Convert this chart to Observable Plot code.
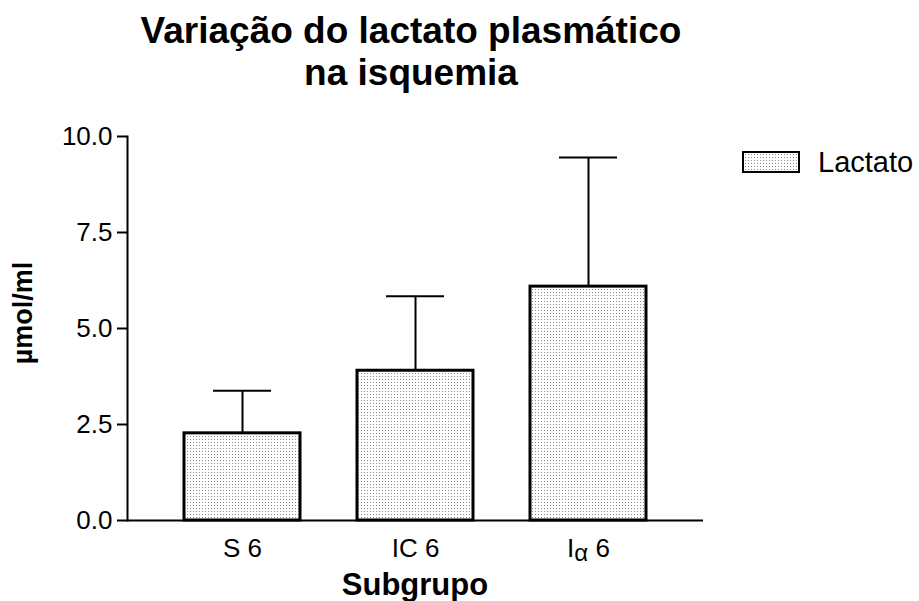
<!DOCTYPE html>
<html>
<head>
<meta charset="utf-8">
<script src="https://cdn.jsdelivr.net/npm/d3@7"></script>
<script src="https://cdn.jsdelivr.net/npm/@observablehq/plot@0.6"></script>
<style>
  html, body { margin: 0; padding: 0; background: white; }
  #chart { width: 919px; height: 601px; position: relative; }
</style>
</head>
<body>
<div id="chart"></div>
<script>
// ---- data ----
const groups = ["S 6", "IC 6", "Iα 6"];
const means = [2.27, 3.90, 6.09];
const errors = [1.11, 1.94, 3.36];
const yTicks = [0, 2.5, 5, 7.5, 10];
const seriesName = "Lactato";
const titleLines = ["Variação do lactato plasmático", "na isquemia"];
const xLabel = "Subgrupo";
const yLabel = "µmol/ml";

const data = groups.map((g, i) => ({group: g, mean: means[i], upper: means[i] + errors[i]}));

const font = "'Liberation Sans', Arial, Helvetica, sans-serif";

const chart = Plot.plot({
  width: 919,
  height: 601,
  marginLeft: 127,
  marginRight: 216,
  marginTop: 136,
  marginBottom: 81,
  style: {fontFamily: font, fontSize: "26px", background: "white", color: "black", overflow: "visible"},
  x: {type: "band", domain: groups, paddingInner: 0.33, paddingOuter: 0.327, label: null},
  y: {domain: [0, 10], label: null},
  marks: [
    Plot.axisY({ticks: yTicks, tickFormat: d3.format(".1f"), tickSize: 10, tickPadding: 5, strokeWidth: 2, fontSize: 26, label: null}),
    Plot.axisX({tickSize: 0, tickPadding: 18, fontSize: 26, label: null}),
    Plot.ruleX(data, {x: "group", y1: "mean", y2: "upper", stroke: "black", strokeWidth: 2}),
    Plot.tickY(data, {x: "group", y: "upper", stroke: "black", strokeWidth: 2, insetLeft: 29, insetRight: 29}),
    Plot.barY(data, {x: "group", y: "mean", fill: "url(#dots)", stroke: "black", strokeWidth: 3}),
    Plot.ruleY([0], {stroke: "black", strokeWidth: 2}),
    Plot.frame({anchor: "left", stroke: "black", strokeWidth: 2})
  ]
});

document.getElementById("chart").appendChild(chart);

const svg = d3.select(chart);
// stipple pattern
const defs = svg.insert("defs", ":first-child");
const pat = defs.append("pattern").attr("id", "dots").attr("patternUnits", "userSpaceOnUse")
  .attr("width", 3).attr("height", 3);
pat.append("rect").attr("width", 3).attr("height", 3).attr("fill", "white");
pat.append("rect").attr("x", 1).attr("y", 1).attr("width", 1).attr("height", 1).attr("fill", "#8a8a8a");

// alpha subscript in the third tick label
svg.selectAll("text").filter(function() { return this.textContent === "Iα 6"; }).each(function() {
  const t = d3.select(this);
  t.text(null);
  t.append("tspan").text("I");
  t.append("tspan").attr("dy", 4).attr("font-size", 24).text("α");
  t.append("tspan").attr("dy", -4).text(" 6");
});

// title
const title = svg.append("text").attr("text-anchor", "middle").attr("font-family", font)
  .attr("font-weight", "bold").attr("font-size", 37).attr("fill", "black");
titleLines.forEach((line, i) => {
  title.append("tspan").attr("x", 411).attr("y", 43 + i * 42).text(line);
});

// axis titles
svg.append("text").attr("text-anchor", "middle").attr("font-family", font).attr("font-weight", "bold")
  .attr("font-size", 31).attr("x", 415).attr("y", 595).text(xLabel);
svg.append("text").attr("text-anchor", "middle").attr("font-family", font).attr("font-weight", "bold")
  .attr("font-size", 27).attr("transform", "translate(32,313) rotate(-90)").text(yLabel);

// legend
const lg = svg.append("g");
lg.append("rect").attr("x", 743).attr("y", 152).attr("width", 56).attr("height", 20)
  .attr("fill", "url(#dots)").attr("stroke", "black").attr("stroke-width", 2);
lg.append("text").attr("text-anchor", "start").attr("x", 818).attr("y", 172).attr("font-family", font)
  .attr("font-size", 29).attr("fill", "black").text(seriesName);
</script>
</body>
</html>
